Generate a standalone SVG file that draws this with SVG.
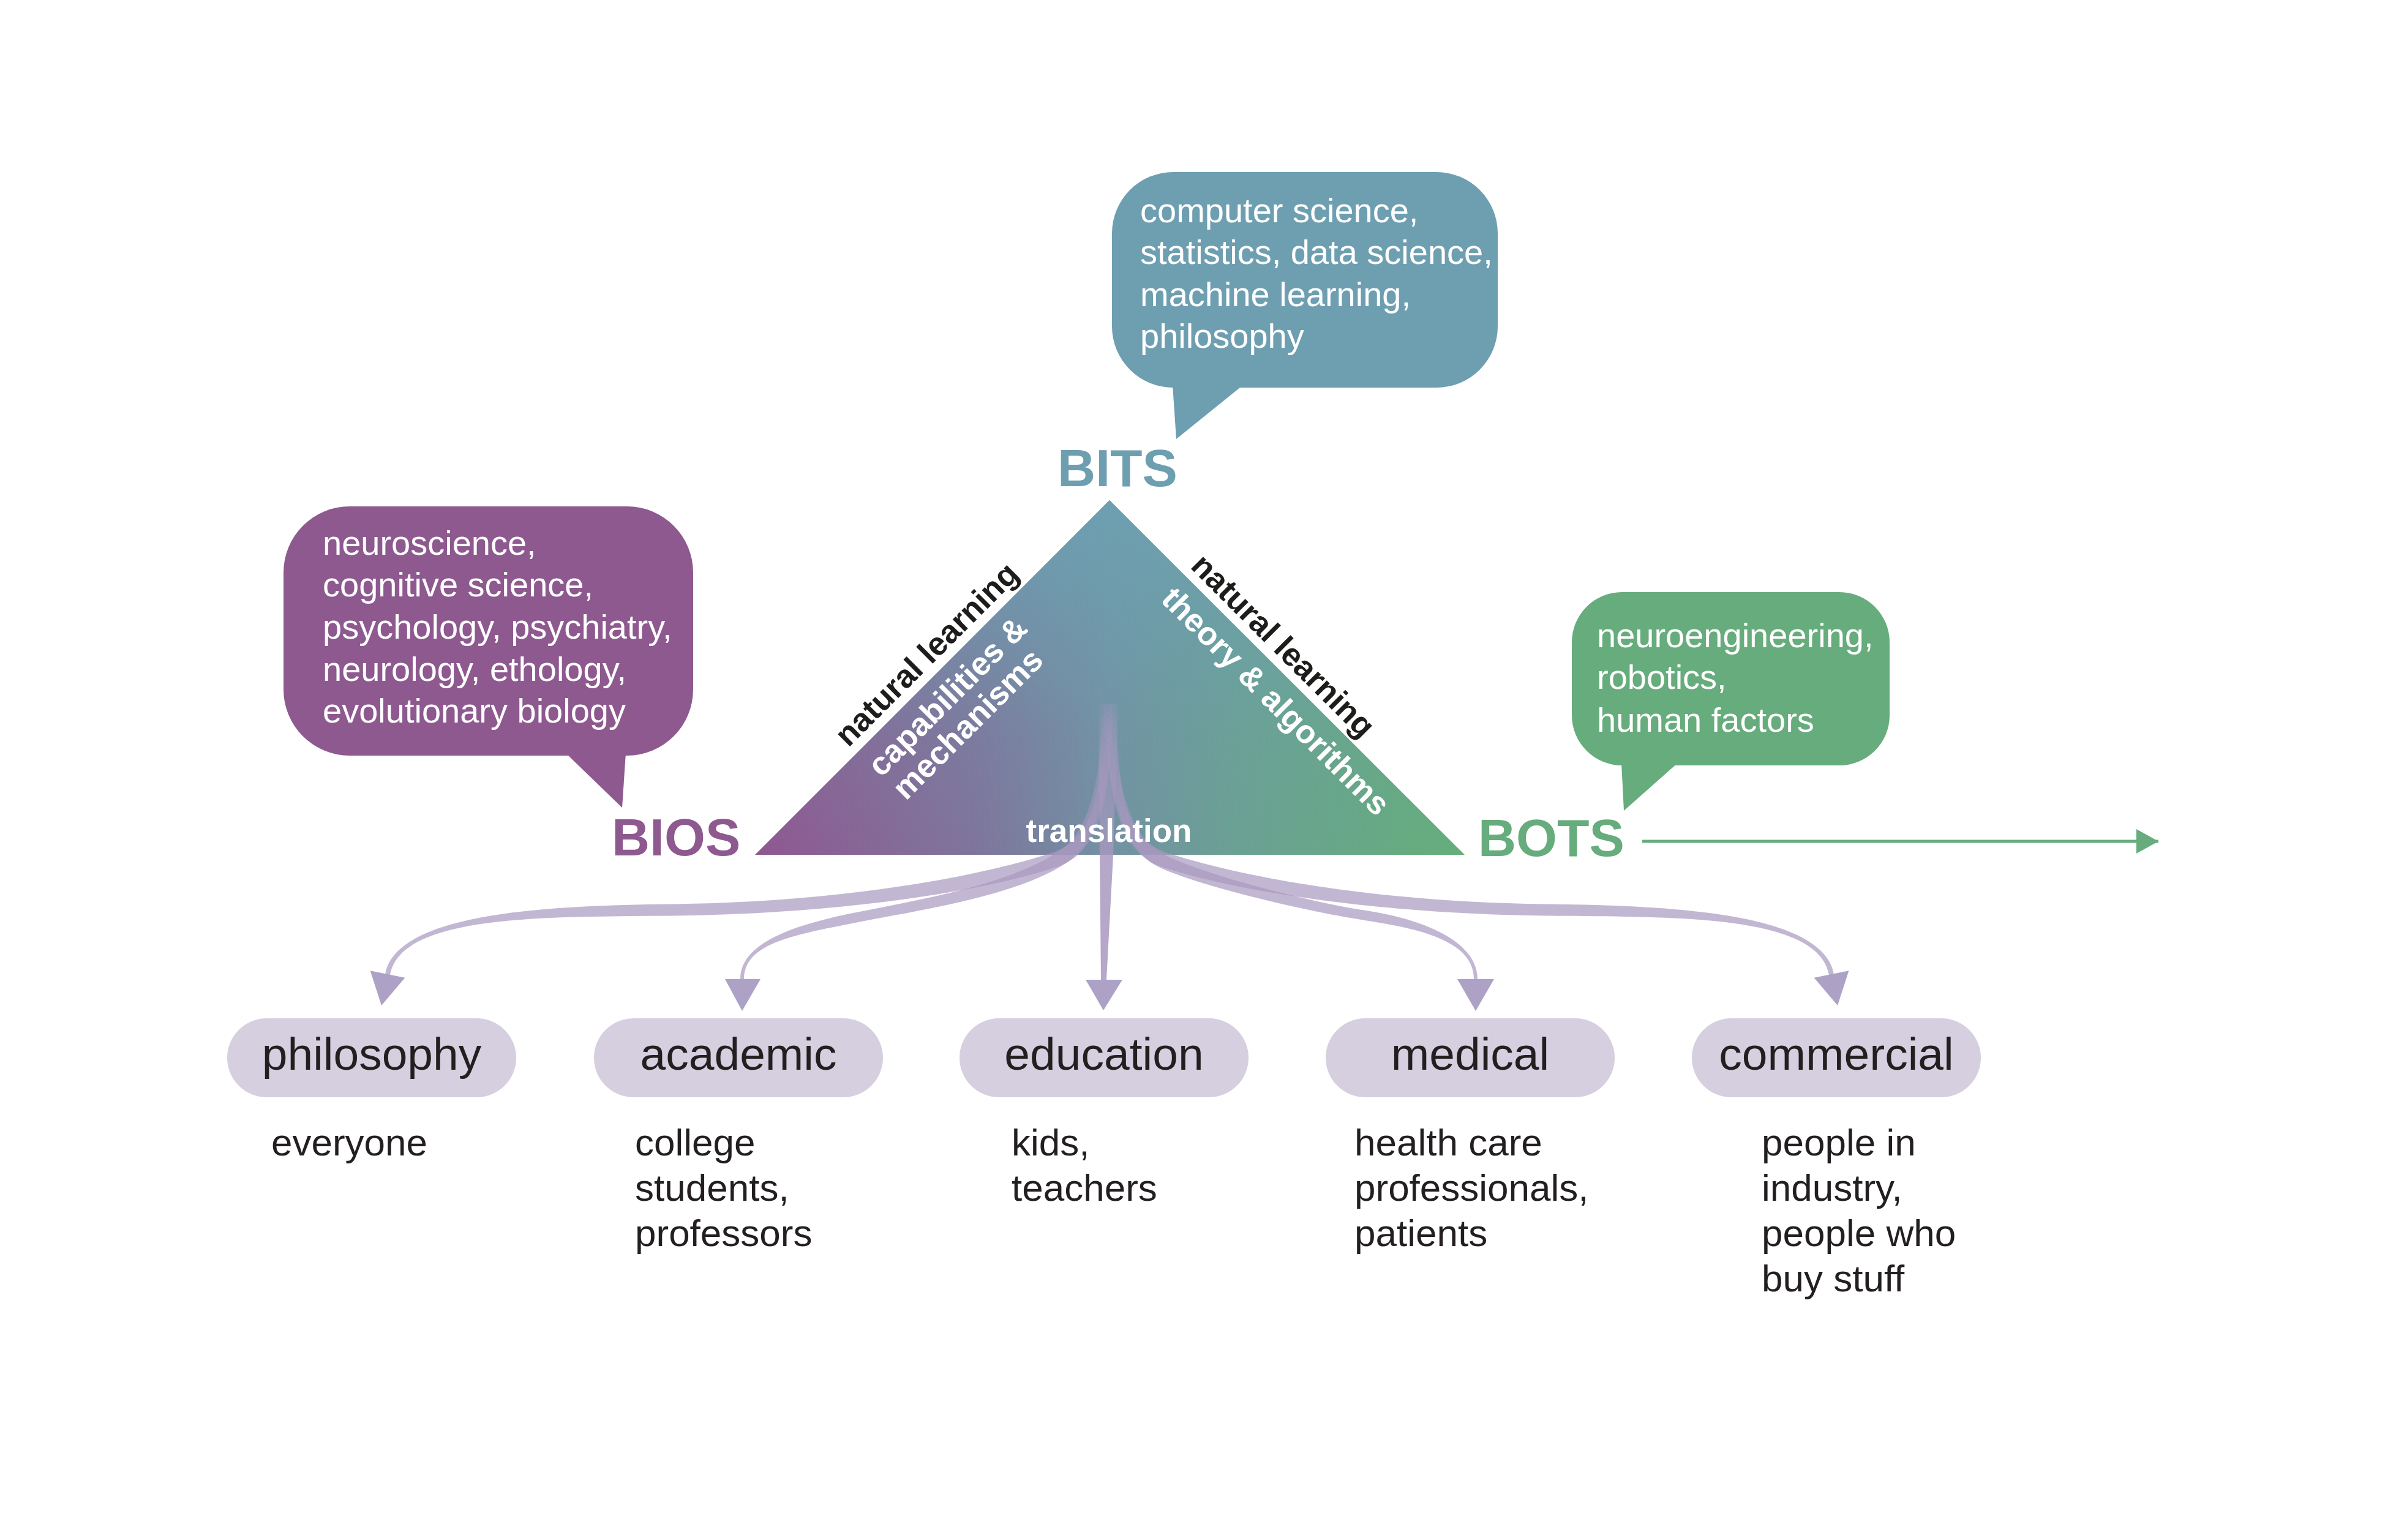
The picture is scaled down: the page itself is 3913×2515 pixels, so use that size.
<svg xmlns="http://www.w3.org/2000/svg" width="3913" height="2515" viewBox="0 0 3913 2515">
<defs>
<style>
text{font-family:"Liberation Sans",Arial,Helvetica,sans-serif}
.btxt{font-size:56px;fill:#ffffff}
.lbl{font-size:86px;font-weight:bold}
.tri{font-size:53px;font-weight:bold;text-anchor:middle}
.pill{fill:#d6cfdf}
.ptxt{font-size:75px;fill:#231f20;text-anchor:middle}
.sub{font-size:62px;fill:#231f20}
.flow{fill:url(#flowFade)}
.head{fill:#ada2c6}
</style>
<linearGradient id="triBase" gradientUnits="userSpaceOnUse" x1="1233" y1="0" x2="2392" y2="0">
<stop offset="0" stop-color="#8f5791"/>
<stop offset="0.32" stop-color="#7e769c"/>
<stop offset="0.5" stop-color="#7391a3"/>
<stop offset="0.67" stop-color="#6ba094"/>
<stop offset="1" stop-color="#64ae7a"/>
</linearGradient>
<linearGradient id="triTop" gradientUnits="userSpaceOnUse" x1="0" y1="817" x2="0" y2="1396">
<stop offset="0" stop-color="#6ca0b0" stop-opacity="1"/>
<stop offset="0.32" stop-color="#6ca0b0" stop-opacity="0.6"/>
<stop offset="0.66" stop-color="#6ca0b0" stop-opacity="0.15"/>
<stop offset="1" stop-color="#6ca0b0" stop-opacity="0"/>
</linearGradient>
<linearGradient id="flowFade" gradientUnits="userSpaceOnUse" x1="0" y1="1130" x2="0" y2="1400">
<stop offset="0" stop-color="#a898bf" stop-opacity="0"/>
<stop offset="0.55" stop-color="#a898bf" stop-opacity="0.45"/>
<stop offset="1" stop-color="#a898bf" stop-opacity="0.7"/>
</linearGradient>
<linearGradient id="stemFade" gradientUnits="userSpaceOnUse" x1="0" y1="1130" x2="0" y2="1400">
<stop offset="0" stop-color="#a898bf" stop-opacity="0"/>
<stop offset="0.55" stop-color="#a898bf" stop-opacity="0.5"/>
<stop offset="1" stop-color="#a898bf" stop-opacity="0.85"/>
</linearGradient>
<marker id="greenArrow" markerUnits="userSpaceOnUse" viewBox="0 0 36 40" markerWidth="36" markerHeight="40" refX="36" refY="20" orient="auto">
<path d="M0,0 L36,20 L0,40 Z" fill="#66ac7c"/>
</marker>
</defs>
<rect width="3913" height="2515" fill="#ffffff"/>

<g id="bios">
<rect x="463" y="827" width="669" height="407" rx="108" fill="#8d598f"/>
<polygon points="924,1230 1022,1230 1016,1319" fill="#8d598f"/>
<text class="btxt" x="527" y="906">neuroscience,</text>
<text class="btxt" x="527" y="974">cognitive science,</text>
<text class="btxt" x="527" y="1043">psychology, psychiatry,</text>
<text class="btxt" x="527" y="1112">neurology, ethology,</text>
<text class="btxt" x="527" y="1180">evolutionary biology</text>
<text class="lbl" x="999" y="1397" fill="#8d598f">BIOS</text>
</g>

<g id="bits">
<rect x="1816" y="281" width="630" height="352" rx="100" fill="#6e9fb1"/>
<polygon points="1915,629 2030,629 1921,717" fill="#6e9fb1"/>
<text class="btxt" x="1862" y="363">computer science,</text>
<text class="btxt" x="1862" y="431">statistics, data science,</text>
<text class="btxt" x="1862" y="500">machine learning,</text>
<text class="btxt" x="1862" y="568">philosophy</text>
<text class="lbl" x="1825" y="794" fill="#6e9fb1" text-anchor="middle">BITS</text>
</g>

<g id="bots">
<rect x="2567" y="967" width="519" height="283" rx="82" fill="#66ac7c"/>
<polygon points="2648,1246 2740,1246 2652,1324" fill="#66ac7c"/>
<text class="btxt" x="2608" y="1057">neuroengineering,</text>
<text class="btxt" x="2608" y="1125">robotics,</text>
<text class="btxt" x="2608" y="1195">human factors</text>
<text class="lbl" x="2414" y="1398" fill="#66ac7c">BOTS</text>
</g>

<g id="triangle">
<path d="M1812,817 L2392,1396 L1233,1396 Z" fill="url(#triBase)"/>
<path d="M1812,817 L2392,1396 L1233,1396 Z" fill="url(#triTop)"/>
</g>

<g id="connectors">
<path class="flow" d="M1799,1150 C1799,1290 1791.6,1369.5 1715.6,1393.5 C1575.6,1438.5 1350,1473.5 1100,1476.5 C900,1478.5 646,1489.5 629,1591.5 L637,1592.5 C654,1491.5 900,1497.5 1100,1495.5 C1350,1492.5 1584.4,1461.5 1724.4,1416.5 C1800.4,1392.5 1817,1290 1817,1150 Z"/>
<polygon class="head" points="604.6,1585.3 661.4,1596.7 623,1642"/>
<path class="flow" d="M1799,1150 C1799,1280 1778.5,1357.7 1728.5,1390.7 C1645.5,1445.7 1498.3,1470.1 1398.3,1490.1 C1298.3,1510.1 1209,1539 1209,1599 L1215,1599 C1215,1539 1301.7,1525.9 1401.7,1505.9 C1501.7,1485.9 1658.5,1464.3 1741.5,1409.3 C1791.5,1376.3 1817,1280 1817,1150 Z"/>
<polygon class="head" points="1184,1599 1242,1599 1212,1651"/>
<path fill="url(#stemFade)" d="M1794,1150 L1826,1150 L1818,1397 L1807,1600 L1798,1600 L1796,1397 Z"/>
<polygon class="head" points="1773,1600 1833,1600 1802,1650"/>
<path class="flow" d="M1803,1150 C1803,1280 1832.4,1381.2 1884.4,1411.6 C1935.4,1441.6 2128.8,1487.9 2228.8,1502.9 C2328.8,1517.9 2407,1540 2407,1599 L2413,1599 C2413,1540 2331.2,1502.1 2231.2,1487.1 C2131.2,1472.1 1946.6,1422.4 1895.6,1392.4 C1843.6,1362 1821,1280 1821,1150 Z"/>
<polygon class="head" points="2380,1599 2440,1599 2410,1651"/>
<path class="flow" d="M1825,1150 C1825,1290 1832.4,1369.5 1908.4,1393.5 C2048.4,1438.5 2274,1473.5 2524,1476.5 C2724,1478.5 2978,1489.5 2995,1591.5 L2987,1592.5 C2970,1491.5 2724,1497.5 2524,1495.5 C2274,1492.5 2039.6,1461.5 1899.6,1416.5 C1823.6,1392.5 1807,1290 1807,1150 Z"/>
<polygon class="head" points="3019.4,1585.3 2962.6,1596.7 3001,1642"/>
<line x1="2682" y1="1374" x2="3525" y2="1374" stroke="#66ac7c" stroke-width="5" marker-end="url(#greenArrow)"/>
</g>

<g id="triangle-labels">
<text class="tri" fill="#1d1d1b" transform="translate(1526,1081) rotate(-45)">natural learning</text>
<text class="tri" fill="#ffffff" transform="translate(1560,1150) rotate(-45)">capabilities &amp;</text>
<text class="tri" fill="#ffffff" transform="translate(1593,1195) rotate(-45)">mechanisms</text>
<text class="tri" fill="#1d1d1b" transform="translate(2083,1067) rotate(45)">natural learning</text>
<text class="tri" fill="#ffffff" transform="translate(2071,1158) rotate(45)">theory &amp; algorithms</text>
<text class="tri" fill="#ffffff" x="1811" y="1375">translation</text>
</g>

<g id="philosophy">
<rect class="pill" x="371" y="1663" width="472" height="129" rx="64.5"/>
<text class="ptxt" x="607" y="1747">philosophy</text>
<text class="sub" x="443" y="1887">everyone</text>
</g>

<g id="academic">
<rect class="pill" x="970" y="1663" width="472" height="129" rx="64.5"/>
<text class="ptxt" x="1206" y="1747">academic</text>
<text class="sub" x="1037" y="1887">college</text>
<text class="sub" x="1037" y="1961">students,</text>
<text class="sub" x="1037" y="2035">professors</text>
</g>

<g id="education">
<rect class="pill" x="1567" y="1663" width="472" height="129" rx="64.5"/>
<text class="ptxt" x="1803" y="1747">education</text>
<text class="sub" x="1652" y="1887">kids,</text>
<text class="sub" x="1652" y="1961">teachers</text>
</g>

<g id="medical">
<rect class="pill" x="2165" y="1663" width="472" height="129" rx="64.5"/>
<text class="ptxt" x="2401" y="1747">medical</text>
<text class="sub" x="2212" y="1887">health care</text>
<text class="sub" x="2212" y="1961">professionals,</text>
<text class="sub" x="2212" y="2035">patients</text>
</g>

<g id="commercial">
<rect class="pill" x="2763" y="1663" width="472" height="129" rx="64.5"/>
<text class="ptxt" x="2999" y="1747">commercial</text>
<text class="sub" x="2877" y="1887">people in</text>
<text class="sub" x="2877" y="1961">industry,</text>
<text class="sub" x="2877" y="2035">people who</text>
<text class="sub" x="2877" y="2109">buy stuff</text>
</g>
</svg>
